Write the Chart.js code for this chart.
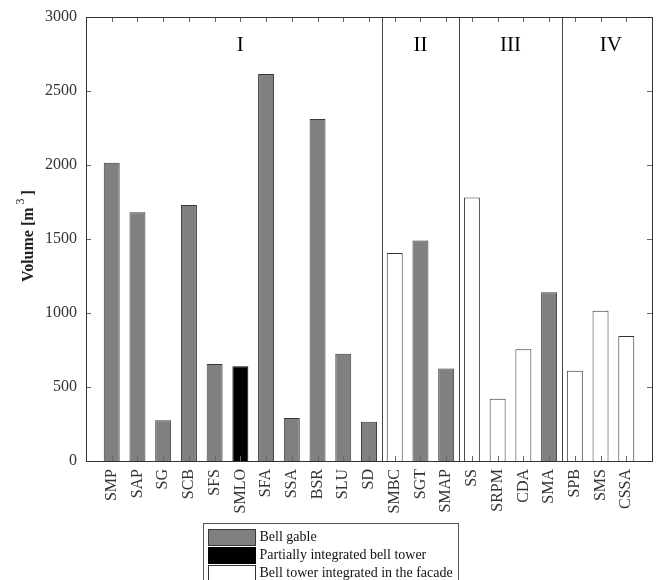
<!DOCTYPE html>
<html>
<head>
<meta charset="utf-8">
<script src="https://cdn.jsdelivr.net/npm/chart.js@4.4.1/dist/chart.umd.min.js"></script>
<style>
  html, body { margin: 0; padding: 0; background: #fff; }
  #wrap { width: 657px; height: 580px; }
</style>
</head>
<body>
<div id="wrap"><canvas id="chart"></canvas></div>
<script>
// Data
const names = ['SMP', 'SAP', 'SG', 'SCB', 'SFS', 'SMLO', 'SFA', 'SSA', 'BSR', 'SLU', 'SD',
               'SMBC', 'SGT', 'SMAP',
               'SS', 'SRPM', 'CDA', 'SMA',
               'SPB', 'SMS', 'CSSA'];
const volumes = [2015, 1680, 275, 1730, 655, 640, 2615, 290, 2310, 725, 265,
                 1405, 1490, 625,
                 1780, 420, 755, 1140,
                 610, 1015, 845];
const types = ['gable', 'gable', 'gable', 'gable', 'gable', 'partial', 'gable', 'gable', 'gable', 'gable', 'gable',
               'facade', 'gable', 'gable',
               'facade', 'facade', 'facade', 'gable',
               'facade', 'facade', 'facade'];
const groupLabels = ['I', 'II', 'III', 'IV'];
const groupCenters = [6, 13, 16.5, 20.4];
const groupBreaks = [11.5, 14.5, 18.5];
const yTicks = [0, 500, 1000, 1500, 2000, 2500, 3000];
const legendTypes = ['gable', 'partial', 'facade'];
const legendLabels = ['Bell gable', 'Partially integrated bell tower', 'Bell tower integrated in the facade'];

// Styles
const fills = { gable: '#808080', partial: '#000000', facade: '#ffffff' };
const borders = { gable: '#3a3a3a', partial: '#000000', facade: '#333333' };
const serif = '"Liberation Serif", "Times New Roman", serif';

// empty slot on each side, like the original axis 0..22
const labels = [''].concat(names, ['']);
const values = [null].concat(volumes, [null]);
const bg = [null].concat(types.map(t => fills[t]), [null]);
const bd = [null].concat(types.map(t => borders[t]), [null]);

const decorations = {
    id: 'decorations',
    afterDatasetsDraw(chart) {
        const ctx = chart.ctx;
        const a = chart.chartArea;
        const x = chart.scales.x, y = chart.scales.y;
        ctx.save();

        // group dividers
        ctx.strokeStyle = '#444';
        ctx.lineWidth = 1;
        groupBreaks.forEach(b => {
            const px = Math.round(x.getPixelForValue(b)) + 0.5;
            ctx.beginPath();
            ctx.moveTo(px, a.top);
            ctx.lineTo(px, a.bottom);
            ctx.stroke();
        });

        // inward ticks
        ctx.strokeStyle = '#666';
        ctx.beginPath();
        names.forEach((n, i) => {
            const px = Math.round(x.getPixelForValue(i + 1)) + 0.5;
            ctx.moveTo(px, a.bottom); ctx.lineTo(px, a.bottom - 5);
            ctx.moveTo(px, a.top); ctx.lineTo(px, a.top + 5);
        });
        yTicks.forEach(v => {
            const py = Math.round(y.getPixelForValue(v)) + 0.5;
            ctx.moveTo(a.left, py); ctx.lineTo(a.left + 5, py);
            ctx.moveTo(a.right, py); ctx.lineTo(a.right - 5, py);
        });
        ctx.stroke();

        // frame
        ctx.strokeStyle = '#333';
        ctx.strokeRect(Math.round(a.left) + 0.5, Math.round(a.top) + 0.5,
                       Math.round(a.right - a.left), Math.round(a.bottom - a.top));

        // group names
        ctx.fillStyle = '#000';
        ctx.font = '21px ' + serif;
        ctx.textAlign = 'center';
        ctx.textBaseline = 'middle';
        groupLabels.forEach((g, i) => {
            ctx.fillText(g, x.getPixelForValue(groupCenters[i]), a.top + 28);
        });

        // y axis title with superscript
        ctx.translate(29, 236);
        ctx.rotate(-Math.PI / 2);
        ctx.fillStyle = '#222';
        ctx.textAlign = 'left';
        ctx.textBaseline = 'middle';
        const p1 = 'Volume [m', sup = ' 3 ', p2 = ']';
        ctx.font = '12px ' + serif;
        const wSup = ctx.measureText(sup).width;
        ctx.font = 'bold 16px ' + serif;
        const w1 = ctx.measureText(p1).width, w2 = ctx.measureText(p2).width;
        let sx = -(w1 + wSup + w2) / 2;
        ctx.fillText(p1, sx, 0);
        ctx.font = '12px ' + serif;
        ctx.fillText(sup, sx + w1, -8);
        ctx.font = 'bold 16px ' + serif;
        ctx.fillText(p2, sx + w1 + wSup, 0);
        ctx.restore();

        // legend box
        ctx.save();
        const lx = 203.5, ly = 523.5, lw = 255, lh = 70;
        ctx.fillStyle = '#fff';
        ctx.fillRect(lx, ly, lw, lh);
        ctx.strokeStyle = '#555';
        ctx.strokeRect(lx, ly, lw, lh);
        ctx.font = '14px ' + serif;
        ctx.textAlign = 'left';
        ctx.textBaseline = 'middle';
        legendLabels.forEach((t, i) => {
            const ry = 529.5 + i * 18;
            ctx.fillStyle = fills[legendTypes[i]];
            ctx.fillRect(lx + 5, ry, 47, 16);
            ctx.strokeStyle = borders[legendTypes[i]];
            ctx.strokeRect(lx + 5, ry, 47, 16);
            ctx.fillStyle = '#111';
            ctx.fillText(t, lx + 56, ry + 8);
        });
        ctx.restore();
    }
};

new Chart(document.getElementById('chart'), {
    type: 'bar',
    data: {
        labels: labels,
        datasets: [{
            data: values,
            backgroundColor: bg,
            borderColor: bd,
            borderWidth: 1,
            barPercentage: 0.62,
            categoryPercentage: 1
        }]
    },
    options: {
        responsive: true,
        maintainAspectRatio: false,
        animation: false,
        layout: { padding: { left: 0, right: 5, top: 17, bottom: 0 } },
        plugins: { legend: { display: false }, tooltip: { enabled: false } },
        scales: {
            x: {
                type: 'category',
                offset: false,
                grid: { display: false, drawTicks: false },
                border: { display: false },
                ticks: {
                    autoSkip: false,
                    maxRotation: 90,
                    minRotation: 90,
                    padding: 8,
                    color: '#333',
                    font: { family: serif, size: 16 }
                },
                afterFit: s => { s.height = 119; s.paddingLeft = 0; s.paddingRight = 0; }
            },
            y: {
                min: 0,
                max: 3000,
                grid: { display: false, drawTicks: false },
                border: { display: false },
                ticks: {
                    stepSize: 500,
                    padding: 9,
                    color: '#333',
                    font: { family: serif, size: 16 },
                    callback: v => String(v)
                },
                afterFit: s => { s.width = 86; s.paddingTop = 0; s.paddingBottom = 0; }
            }
        }
    },
    plugins: [decorations]
});
</script>
</body>
</html>
